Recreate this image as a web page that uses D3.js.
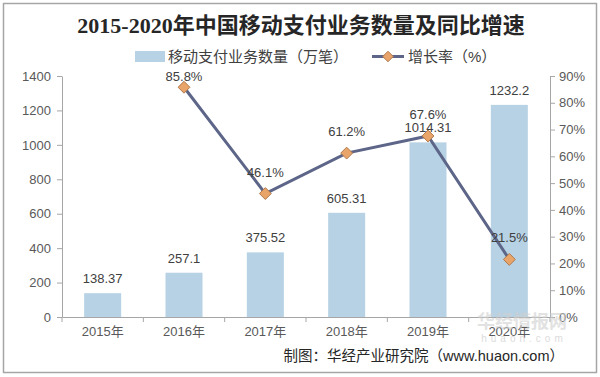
<!DOCTYPE html>
<html>
<head>
<meta charset="utf-8">
<script src="https://cdn.jsdelivr.net/npm/d3@7"></script>
<style>
body { margin: 0; background: #fff; }
svg text { font-family: "Liberation Sans", Arial, "Noto Sans CJK SC", sans-serif; }
</style>
</head>
<body>
<div id="chart"></div>
<script>
var width = 600;
var height = 377;

var years = ["2015年", "2016年", "2017年", "2018年", "2019年", "2020年"];
var volume = [138.37, 257.1, 375.52, 605.31, 1014.31, 1232.2];
var volumeLabels = ["138.37", "257.1", "375.52", "605.31", "1014.31", "1232.2"];
var growth = [null, 85.8, 46.1, 61.2, 67.6, 21.5];
var leftTicks = [0, 200, 400, 600, 800, 1000, 1200, 1400];
var rightTicks = [0, 10, 20, 30, 40, 50, 60, 70, 80, 90];

var svg = d3.select("#chart").append("svg")
    .attr("width", width)
    .attr("height", height);

// frame
svg.append("rect")
    .attr("x", 3.5).attr("y", 3.5)
    .attr("width", 593).attr("height", 369)
    .attr("fill", "#fff")
    .attr("stroke", "#a6a6a6")
    .attr("stroke-width", 1.5);

// title
svg.append("text")
    .attr("x", 301).attr("y", 33)
    .attr("text-anchor", "middle")
    .style("font-family", "'Liberation Serif', 'Noto Sans CJK SC', serif")
    .style("font-size", "22px")
    .style("font-weight", "bold")
    .attr("fill", "#262626")
    .text("2015-2020年中国移动支付业务数量及同比增速");

// scales
var xBand = d3.scaleBand().domain(years).range([62, 550]);
var yScale = d3.scaleLinear().domain([0, 1400]).range([317, 76]);
var yScale2 = d3.scaleLinear().domain([0, 90]).range([317, 76]);
function cx(yr) { return xBand(yr) + xBand.bandwidth() / 2; }

// bars
svg.selectAll("rect.bar")
    .data(volume)
    .enter()
    .append("rect")
    .attr("class", "bar")
    .attr("x", function(d, i) { return cx(years[i]) - 18.5; })
    .attr("width", 37)
    .attr("y", function(d) { return yScale(d); })
    .attr("height", function(d) { return 317 - yScale(d); })
    .attr("fill", "#b7d2e4");

// bar labels
svg.selectAll("text.vlab")
    .data(volume)
    .enter()
    .append("text")
    .attr("class", "vlab")
    .attr("x", function(d, i) { return cx(years[i]); })
    .attr("y", function(d) { return yScale(d) - 10; })
    .attr("text-anchor", "middle")
    .style("font-size", "13px")
    .attr("fill", "#404040")
    .text(function(d, i) { return volumeLabels[i]; });

// axes
function styleAxis(g) {
    g.selectAll("path").attr("stroke", "#a6a6a6");
    g.selectAll("line").attr("stroke", "#a6a6a6");
    g.selectAll("text").attr("fill", "#595959").style("font-size", "13px");
}

svg.append("g")
    .attr("transform", "translate(62,0)")
    .call(d3.axisLeft(yScale).tickValues(leftTicks).tickSize(5).tickSizeOuter(0).tickPadding(6)
        .tickFormat(d3.format("d")))
    .call(styleAxis);

svg.append("g")
    .attr("transform", "translate(550,0)")
    .call(d3.axisRight(yScale2).tickValues(rightTicks).tickSize(5).tickSizeOuter(0).tickPadding(4)
        .tickFormat(function(d) { return d + "%"; }))
    .call(styleAxis);

var xAxisG = svg.append("g")
    .attr("transform", "translate(0,317)")
    .call(d3.axisBottom(xBand).tickSize(0).tickPadding(10))
    .call(styleAxis);
xAxisG.selectAll("line.sep")
    .data(d3.range(years.length + 1))
    .enter()
    .append("line")
    .attr("class", "sep")
    .attr("x1", function(d) { return 62 + d * xBand.step(); })
    .attr("x2", function(d) { return 62 + d * xBand.step(); })
    .attr("y1", 0).attr("y2", 5)
    .attr("stroke", "#a6a6a6");

// growth line
var pts = growth.map(function(d, i) { return {v: d, x: years[i]}; }).filter(function(d) { return d.v !== null; });
var line = d3.line()
    .x(function(d) { return cx(d.x); })
    .y(function(d) { return yScale2(d.v); });

svg.append("path")
    .datum(pts)
    .attr("d", line)
    .attr("fill", "none")
    .attr("stroke", "#5d6688")
    .attr("stroke-width", 3);

svg.selectAll("path.mk")
    .data(pts)
    .enter()
    .append("path")
    .attr("class", "mk")
    .attr("d", d3.symbol().type(d3.symbolDiamond2).size(90))
    .attr("transform", function(d) { return "translate(" + cx(d.x) + "," + yScale2(d.v) + ")"; })
    .attr("fill", "#e9a46a")
    .attr("stroke", "#b07a4e")
    .attr("stroke-width", 1);

// keep labels below the legend row
svg.selectAll("text.glab")
    .data(pts)
    .enter()
    .append("text")
    .attr("class", "glab")
    .attr("x", function(d) { return cx(d.x); })
    .attr("y", function(d) { return Math.max(yScale2(d.v) - 17, 81); })
    .attr("text-anchor", "middle")
    .style("font-size", "13px")
    .attr("fill", "#404040")
    .text(function(d) { return d.v.toFixed(1) + "%"; });

// legend
svg.append("rect")
    .attr("x", 135).attr("y", 51)
    .attr("width", 30).attr("height", 11)
    .attr("fill", "#b7d2e4");
svg.append("text")
    .attr("x", 168).attr("y", 62)
    .style("font-size", "15px")
    .attr("fill", "#404040")
    .text("移动支付业务数量（万笔）");
svg.append("line")
    .attr("x1", 372).attr("x2", 404)
    .attr("y1", 56.5).attr("y2", 56.5)
    .attr("stroke", "#5d6688").attr("stroke-width", 3);
svg.append("path")
    .attr("d", d3.symbol().type(d3.symbolDiamond2).size(70))
    .attr("transform", "translate(388,56.5)")
    .attr("fill", "#e9a46a")
    .attr("stroke", "#b07a4e");
svg.append("text")
    .attr("x", 408).attr("y", 62)
    .style("font-size", "15px")
    .attr("fill", "#404040")
    .text("增长率（%）");

// watermark
svg.append("text")
    .attr("x", 522).attr("y", 328)
    .attr("text-anchor", "middle")
    .style("font-size", "18px")
    .style("font-weight", "bold")
    .attr("fill", "#d0d0d0")
    .attr("opacity", 0.6)
    .text("华经情报网");
svg.append("text")
    .attr("x", 524).attr("y", 342)
    .attr("text-anchor", "middle")
    .style("font-size", "10px")
    .style("letter-spacing", "4px")
    .attr("fill", "#dcdcdc")
    .text("huaon.com");

// source
svg.append("text")
    .attr("x", 564).attr("y", 361)
    .attr("text-anchor", "end")
    .style("font-size", "14.5px")
    .attr("fill", "#262626")
    .text("制图：华经产业研究院（www.huaon.com）");
</script>
</body>
</html>
